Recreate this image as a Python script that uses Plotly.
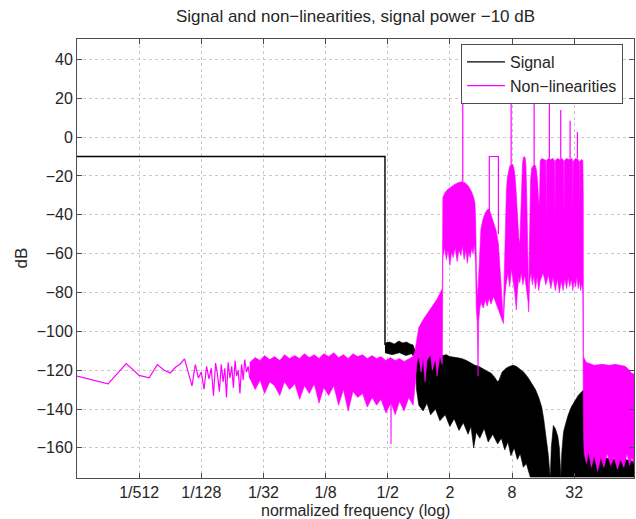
import plotly.graph_objects as go

# ---------------- data ----------------
# Signal: flat in-band level, then the out-of-band floor
sig_f = [1 / 2048, 0.47, 0.47]
sig_db = [-10, -10, -107]

# Signal out-of-band floor: upper and lower envelope of the dense spectrum
sig_floor_f_hi = [0.47, 0.52, 0.58, 0.64, 0.70, 0.76, 0.82, 0.88, 0.92,
                  1.0, 1.1, 1.2, 1.35, 1.5, 1.7, 1.85,
                  2.0, 2.3, 2.6, 2.9, 3.2, 3.5, 3.8,
                  4.2, 4.6, 5.0, 5.4, 5.8, 6.0, 6.4,
                  7.0, 7.6, 8.2, 8.8, 9.5, 10.4, 11.5,
                  12.5, 13.5, 14.5, 15.5, 16.2, 16.8, 17.5,
                  18.0, 18.5, 18.8, 19.2, 20.1, 21.0, 22.2,
                  23.0, 23.5, 23.8, 24.3, 25.2, 26.0, 28.0,
                  30.0, 32.0, 35.0, 38.0, 40.0, 42.0, 50.0,
                  60.0, 80.0, 100.0, 121.5]
sig_floor_hi = [-106, -105.5, -106.5, -105, -106, -105.5, -106.5, -107, -110,
                -111, -112.5, -111.5, -113, -112, -112.5, -112,
                -113, -113.5, -114, -115, -116.5, -117.5, -118,
                -119.5, -120.5, -121.5, -123.5, -126, -125, -121,
                -119, -118, -117.5, -118, -119.5, -121, -124,
                -127, -130, -134, -139, -145, -151, -158,
                -164, -172, -175, -160, -148.5, -150, -154,
                -160, -170, -175, -162, -152, -149, -143,
                -139, -136.5, -133, -131, -130, -160, -163,
                -165, -166, -166, -167]
sig_floor_f_lo = [0.47, 0.55, 0.65, 0.75, 0.85, 0.92, 0.95,
                  1.0, 1.1, 1.2, 1.3, 1.45, 1.6, 1.8,
                  2.0, 2.2, 2.45, 2.7, 3.0, 3.2, 3.4,
                  3.6, 3.9, 4.3, 4.7, 5.2, 5.8, 6.3,
                  6.8, 7.3, 7.8, 8.4, 9.0, 9.6, 10.3,
                  11.0, 12.0, 121.5]
sig_floor_lo = [-111, -112, -111, -112.5, -111.5, -114, -130,
                -138, -141, -137, -143, -140, -146, -143,
                -149, -145, -151, -147, -153, -149, -160,
                -152, -155, -150, -157, -153, -158, -155,
                -161, -157, -164, -160, -166, -163, -170,
                -168, -175, -175]

# Non-linearities: sparse low-frequency bins
nl_low_f = [1/2048, 2/2048, 3/2048, 4/2048, 5/2048, 6/2048, 7/2048, 8/2048,
            9/2048, 10/2048, 11/2048, 12/2048, 13/2048, 14/2048, 15/2048,
            16/2048, 17/2048, 18/2048, 19/2048, 20/2048, 21/2048, 22/2048,
            0.0112, 0.0117, 0.0122, 0.0127, 0.0132, 0.0137, 0.0142, 0.0148,
            0.0154, 0.0160, 0.0166, 0.0172, 0.0178, 0.0185, 0.0192, 0.0199,
            0.0206, 0.0214, 0.0222, 0.0230]
nl_low_db = [-123, -127, -116.6, -122.7, -123.9, -117.1, -120, -121.4,
             -118.5, -116.8, -114.2, -121, -128.1, -117.1, -124,
             -121, -129.8, -118, -124.5, -119, -133.2, -116.3,
             -122, -131, -117, -126, -119, -134, -116, -124,
             -118, -129, -115, -123, -120, -132, -117, -125,
             -114.5, -121, -118, -124]

# Non-linearities: dense part, upper envelope
nl_f_hi = [0.023, 0.026, 0.029, 0.032, 0.036, 0.04, 0.045, 0.05, 0.056, 0.063,
           0.07, 0.078, 0.087, 0.097, 0.108, 0.12, 0.134, 0.15, 0.167, 0.186,
           0.207, 0.23, 0.256, 0.285, 0.317, 0.353, 0.39, 0.43, 0.48, 0.53,
           0.59, 0.65, 0.72, 0.8, 0.88,
           0.92, 0.96, 1.0, 1.1, 1.2, 1.3, 1.4, 1.5, 1.6, 1.69,
           1.71, 1.8, 1.9, 2.0, 2.2, 2.4, 2.6, 2.8, 3.0, 3.2, 3.4, 3.5, 3.56,
           3.62, 3.7,
           3.8, 3.9, 4.0, 4.2, 4.4, 4.6, 4.8, 5.0, 5.3, 5.6, 5.9, 6.1, 6.3,
           6.5, 6.6,
           6.7, 6.8, 6.9, 7.05, 7.2, 7.4, 7.6, 7.85, 8.1, 8.3, 8.5, 8.7, 8.9,
           9.1, 9.3, 9.5,
           9.7, 9.9, 10.1, 10.3, 10.5, 10.7, 10.9, 11.1, 11.3, 11.5, 11.6,
           11.75, 11.9, 12.1, 12.4, 12.8, 13.1, 13.4, 13.8, 14.2, 14.5, 14.8,
           15.0, 15.6, 16.4, 17.0, 17.15, 17.3, 18.0, 19.0, 20.0, 20.7, 20.85,
           21.0, 22.0, 23.0, 24.5, 25.3, 25.5, 25.7, 27.0, 28.5, 30.5, 30.9,
           31.1, 31.3, 33.0, 35.0, 35.9, 36.1, 36.3, 37.5, 38.8, 39.2, 39.3,
           40.5, 42, 45, 50, 60, 70, 80, 90, 100, 105, 110, 115, 121.5]
nl_hi = [-116, -113.5, -115, -112.5, -114.5, -113, -115, -112, -114, -112.5,
         -114, -111.5, -113.5, -112, -114, -111.5, -113, -111, -113.5, -112,
         -114, -111.5, -113, -112, -114, -112.5, -114, -113, -115, -113.5,
         -115, -114, -115.5, -114, -113,
         -110, -104, -98, -94, -91, -88.5, -86, -83.5, -80.5, -78,
         -31, -28.5, -27, -26, -24.5, -23.5, -23, -23.5, -25, -27.5, -31, -34,
         -45, -70, -84,
         -72, -54, -47, -42, -39, -37.5, -37, -40, -44, -48, -55, -65, -78,
         -90, -93,
         -75, -55, -40, -28, -21, -17, -15, -14, -14, -15.5, -19, -25, -34,
         -45, -52, -55,
         -40, -25, -14, -10.5, -10, -10.5, -14, -30, -55, -75, -85,
         -60, -35, -22, -16, -14.5, -14, -14.5, -17, -24, -35, -30,
         -12, -11, -11.5, -12, -45, -12, -11, -11.5, -11, -12.5, -42,
         -12, -11, -11.5, -11, -12.5, -40, -12, -11, -11.5, -11, -13,
         -38, -12.5, -11, -11.5, -13, -40, -12.5, -11.5, -12, -30, -113,
         -114.5, -116, -116.5, -117.5, -117, -117.5, -117, -117.5, -118, -119,
         -120.5, -121.5, -122]

# Non-linearities: dense part, lower envelope
nl_f_lo = [0.023, 0.026, 0.029, 0.032, 0.036, 0.04, 0.045, 0.05, 0.056, 0.063,
           0.07, 0.078, 0.087, 0.097, 0.108, 0.12, 0.134, 0.15, 0.167, 0.186,
           0.207, 0.23, 0.256, 0.285, 0.317, 0.353, 0.39, 0.43, 0.48, 0.535,
           0.538, 0.541, 0.59, 0.65, 0.72, 0.8, 0.88, 0.92,
           0.96, 1.0, 1.05, 1.1, 1.15, 1.2, 1.3, 1.35, 1.45, 1.5, 1.6, 1.69,
           1.71, 1.78, 1.85, 1.92, 2.0, 2.08, 2.15, 2.25, 2.35, 2.45, 2.55,
           2.65, 2.75, 2.85, 2.95, 3.05, 3.15, 3.25, 3.35, 3.45, 3.55,
           3.6, 3.68, 3.75, 3.8, 3.85,
           3.9, 4.0, 4.2, 4.4, 4.6, 4.8, 5.0, 5.3, 5.6, 5.9, 6.2, 6.5, 6.6,
           6.8, 7.0, 7.3, 7.6, 7.9, 8.2, 8.5, 8.8, 9.0, 9.3, 9.5, 9.8, 10.2,
           10.6, 11.0, 11.4, 11.6,
           11.8, 12.2, 12.6, 13.0, 13.5, 14.0, 14.5, 15.0,
           16, 17, 18, 19, 20, 21, 22, 23, 24, 25, 26, 27, 28, 29, 30, 31, 32,
           33, 34, 35, 36, 37, 38, 38.8, 39.2,
           39.5, 40, 42, 44, 47, 50, 54, 58, 62, 67, 72, 78, 84, 90, 97, 104,
           110, 116, 121.5]
nl_lo = [-124, -130, -125, -132, -126, -128, -133, -126, -130, -127,
         -135, -128, -132, -127, -137, -129, -133, -128, -138, -130,
         -141, -131, -134, -132, -139, -134, -138, -135, -142, -137,
         -158, -137, -143, -136, -141, -134, -138, -128,
         -116, -113, -121, -114, -126, -115, -112, -120, -114, -123, -113, -117,
         -62, -57, -63, -58, -66, -59, -62, -57, -64, -58, -61,
         -56, -63, -58, -65, -59, -62, -57, -60, -55, -65,
         -88, -95, -123, -95, -92,
         -88, -85, -88, -84, -87, -83, -86, -82, -85, -88, -92, -95, -96,
         -82, -76, -70, -77, -68, -74, -80, -89, -80, -72, -75, -70, -76,
         -71, -78, -84, -90,
         -75, -70, -76, -71, -78, -72, -79, -74,
         -70, -76, -71, -78, -72, -79, -73, -80, -74, -79, -73, -78, -72,
         -77, -73, -79, -74, -77, -72, -78, -74, -79, -75, -80, -135,
         -155, -163, -168, -162, -170, -164, -172, -165, -170, -163, -169,
         -165, -171, -166, -170, -163, -169, -165, -168]

# Narrow intermodulation lines: (frequency, base level, peak level)
nl_tone_f = [2.665, 7.84, 13.1, 18.4, 23.7, 29.2, 34.4]
nl_tone_base = [-23, -14, -14, -11, -11, -11, -11]
nl_tone_peak = [32, 32, 32, 19, 14, 8.4, 2.6]

# Narrow rectangular component
nl_box_f = [4.82, 4.82, 5.9, 5.9]
nl_box_db = [-38, -10, -10, -50]

# Axis ticks
x_tickvals = [1/512, 1/128, 1/32, 1/8, 1/2, 2, 8, 32]
x_ticktext = ["1/512", "1/128", "1/32", "1/8", "1/2", "2", "8", "32"]
y_tickvals = [40, 20, 0, -20, -40, -60, -80, -100, -120, -140, -160]

BLACK = "#000000"
MAGENTA = "#ff00ff"
FONT = "Liberation Sans, Arial, sans-serif"
TEXT = "#262626"

fig = go.Figure()

# --- Signal ---
fig.add_trace(go.Scatter(x=sig_f, y=sig_db, mode="lines", name="Signal",
                         line=dict(color=BLACK, width=1.4), showlegend=True))
fig.add_trace(go.Scatter(x=sig_floor_f_hi + sig_floor_f_lo[::-1],
                         y=sig_floor_hi + sig_floor_lo[::-1],
                         mode="lines", fill="toself", fillcolor=BLACK,
                         line=dict(color=BLACK, width=0.6), showlegend=False))

# --- Non-linearities ---
fig.add_trace(go.Scatter(x=nl_low_f, y=nl_low_db, mode="lines",
                         name="Non\u2212linearities",
                         line=dict(color=MAGENTA, width=1.2), showlegend=True))
fig.add_trace(go.Scatter(x=nl_f_hi + nl_f_lo[::-1], y=nl_hi + nl_lo[::-1],
                         mode="lines", fill="toself", fillcolor=MAGENTA,
                         line=dict(color=MAGENTA, width=0.6), showlegend=False))

tone_x, tone_y = [], []
for f, b, p in zip(nl_tone_f, nl_tone_base, nl_tone_peak):
    tone_x += [f, f, None]
    tone_y += [b, p, None]
fig.add_trace(go.Scatter(x=tone_x, y=tone_y, mode="lines",
                         line=dict(color=MAGENTA, width=1.2), showlegend=False))
fig.add_trace(go.Scatter(x=nl_box_f, y=nl_box_db, mode="lines",
                         line=dict(color=MAGENTA, width=1.2), showlegend=False))

axis_common = dict(showline=True, linecolor="#4d4d4d", linewidth=1,
                   mirror="ticks", ticks="inside", ticklen=5,
                   tickcolor="#4d4d4d", showgrid=True, gridcolor="#c8c8c8",
                   griddash="dot", gridwidth=1, zeroline=False,
                   tickfont=dict(family=FONT, size=16, color=TEXT))

fig.update_xaxes(type="log", range=[-3.3113, 2.0846],
                 tickvals=x_tickvals, ticktext=x_ticktext, **axis_common)
fig.update_yaxes(range=[-175.5, 50.5], tickvals=y_tickvals, **axis_common)

fig.update_layout(
    width=636, height=519,
    margin=dict(l=77, r=2, t=39, b=41),
    paper_bgcolor="white", plot_bgcolor="white",
    font=dict(family=FONT, color=TEXT),
    title=dict(text="Signal and non\u2212linearities, signal power \u221210 dB",
               x=0.5, xref="paper", xanchor="center",
               y=1 - 16 / 519, yref="container", yanchor="middle",
               font=dict(family=FONT, size=17, color=TEXT)),
    legend=dict(x=0.6894, y=0.9886, xanchor="left", yanchor="top",
                bgcolor="white", bordercolor="#4d4d4d", borderwidth=1,
                font=dict(family=FONT, size=16, color=TEXT),
                tracegroupgap=0, itemwidth=38),
    showlegend=True,
    annotations=[
        dict(text="normalized frequency (log)", x=0.5, y=0, xref="paper",
             yref="paper", xanchor="center", yanchor="top", yshift=-22,
             height=17, valign="middle",
             showarrow=False, font=dict(family=FONT, size=16, color=TEXT)),
        dict(text="dB", x=0, y=0.5, xref="paper", yref="paper",
             xanchor="center", yanchor="middle", xshift=-56, textangle=-90,
             showarrow=False, font=dict(family=FONT, size=17, color=TEXT)),
    ],
)

fig.write_html("out.html")
